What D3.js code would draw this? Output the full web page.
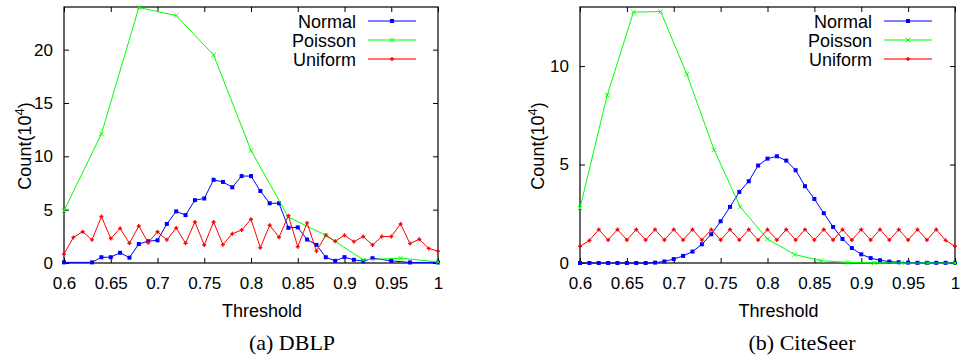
<!DOCTYPE html>
<html>
<head>
<meta charset="utf-8">
<script src="https://cdn.jsdelivr.net/npm/d3@7"></script>
<style>
  body { margin: 0; background: #fff; }
  svg { display: block; }
  text { font-family: "Liberation Sans", Arial, sans-serif; fill: #000; }
  .caption { font-family: "Liberation Serif", "Times New Roman", serif; }
</style>
</head>
<body>
<svg id="chart" width="960" height="360"></svg>
<script>
// thresholds shared by the dense series
const thresholds = [0.60,0.61,0.62,0.63,0.64,0.65,0.66,0.67,0.68,0.69,
                    0.70,0.71,0.72,0.73,0.74,0.75,0.76,0.77,0.78,0.79,
                    0.80,0.81,0.82,0.83,0.84,0.85,0.86,0.87,0.88,0.89,
                    0.90,0.91,0.92,0.93,0.94,0.95,0.96,0.97,0.98,0.99,1.00];
const xTicks = [0.6,0.65,0.7,0.75,0.8,0.85,0.9,0.95,1];
const seriesNames = ["Normal", "Poisson", "Uniform"];

// (a) DBLP
const dblpNormalX = [0.60,0.63,0.64,0.65,0.66,0.67,0.68,0.69,0.70,0.71,0.72,0.73,0.74,0.75,0.76,0.77,0.78,0.79,
                     0.80,0.81,0.82,0.83,0.84,0.85,0.86,0.87,0.88,0.89,0.90,0.91,0.92,0.93,0.95,0.97,1.00];
const dblpNormalY = [0.06,0.06,0.54,0.54,0.96,0.5,1.78,2.04,2.13,3.66,4.84,4.49,5.89,6.05,7.8,7.6,7.1,8.15,
                     8.15,6.75,5.6,5.6,3.3,3.34,2.2,1.7,0.54,0.2,0.55,0.3,0.17,0.45,0.2,0.05,0.05];
const dblpPoissonX = [0.60,0.64,0.68,0.72,0.76,0.80,0.84,0.88,0.92,0.96,1.00];
const dblpPoissonY = [4.9,12.1,23.95,23.2,19.5,10.55,4.3,2.6,0.3,0.45,0.1];
const dblpUniformY = [0.83,2.4,2.93,2.17,4.36,2.29,3.25,1.85,3.47,1.91,
                      2.93,2.17,3.28,1.85,3.85,1.69,3.85,1.72,2.74,3.09,
                      4.1,1.43,3.54,2.42,4.43,1.53,3.76,1.11,2.61,2.04,
                      2.61,2.0,2.48,1.69,2.48,2.48,3.66,1.82,2.23,1.37,1.11];
const dblpYTicks = [0,5,10,15,20];

// (b) CiteSeer
const csNormalY = [0,0,0,0,0,0,0,0,0.02,0.08,
                   0.2,0.36,0.58,0.95,1.46,2.12,2.85,3.61,4.15,4.95,
                   5.3,5.42,5.2,4.71,3.9,3.25,2.53,1.83,1.22,0.76,
                   0.44,0.25,0.14,0.07,0.04,0.02,0.01,0.01,0.01,0.01,0.01];
const csPoissonX = [0.6,0.629,0.657,0.686,0.714,0.743,0.771,0.8,0.829,0.857,0.886,0.914,0.943,0.971,1.0];
const csPoissonY = [2.79,8.52,12.74,12.77,9.58,5.75,2.84,1.22,0.43,0.12,0.03,0.01,0,0,0];
const csUniformY = [0.85,1.14,1.7,1.17,1.7,1.17,1.7,1.17,1.7,1.17,
                    1.7,1.17,1.7,1.17,1.7,1.17,1.7,1.17,1.7,1.17,
                    1.7,1.17,1.7,1.17,1.7,1.17,1.7,1.17,1.7,1.17,
                    1.7,1.17,1.7,1.17,1.7,1.17,1.7,1.17,1.7,1.15,0.85];
const csYTicks = [0,5,10];

const colors = { Normal: "#0000ff", Poisson: "#00ff00", Uniform: "#ff0000" };

const svg = d3.select("#chart");

function zip(xs, ys) { return xs.map((x, i) => [x, ys[i]]); }

function drawMarker(g, name, cx, cy) {
  const c = colors[name];
  if (name === "Normal") {
    g.append("rect").attr("x", cx - 2).attr("y", cy - 2).attr("width", 4).attr("height", 4).attr("fill", c);
  } else if (name === "Poisson") {
    g.append("path").attr("d", `M${cx-2.2},${cy-2.2}L${cx+2.2},${cy+2.2}M${cx-2.2},${cy+2.2}L${cx+2.2},${cy-2.2}`)
      .attr("stroke", c).attr("stroke-width", 1);
  } else {
    g.append("path").attr("d", `M${cx-2},${cy}L${cx+2},${cy}M${cx},${cy-2}L${cx},${cy+2}`)
      .attr("stroke", c).attr("stroke-width", 1.4);
  }
}

function drawPanel(p) {
  const x = d3.scaleLinear().domain([0.6, 1]).range([p.left, p.right]);
  const y = d3.scaleLinear().domain([0, p.yMax]).range([p.bottom, p.top]);
  const g = svg.append("g");

  // frame
  g.append("rect").attr("x", p.left).attr("y", p.top)
    .attr("width", p.right - p.left).attr("height", p.bottom - p.top)
    .attr("fill", "none").attr("stroke", "#000").attr("stroke-width", 1.2);

  // axes with inward ticks, mirrored on top/right
  const bottomAxis = g.append("g").attr("transform", `translate(0,${p.bottom})`)
    .call(d3.axisBottom(x).tickValues(xTicks).tickSize(-5).tickPadding(14).tickFormat(d3.format("")));
  const leftAxis = g.append("g").attr("transform", `translate(${p.left},0)`)
    .call(d3.axisLeft(y).tickValues(p.yTicks).tickSize(-5).tickPadding(11));
  g.append("g").attr("transform", `translate(0,${p.top})`)
    .call(d3.axisTop(x).tickValues(xTicks).tickSize(-5).tickFormat(""));
  g.append("g").attr("transform", `translate(${p.right},0)`)
    .call(d3.axisRight(y).tickValues(p.yTicks).tickSize(-5).tickFormat(""));
  g.selectAll(".domain").remove();
  g.selectAll(".tick line").attr("stroke", "#000").attr("stroke-width", 1);
  g.selectAll(".tick text").attr("font-size", 17)
    .attr("font-family", "Liberation Sans, Arial, sans-serif");

  // series
  const line = d3.line().x(d => x(d[0])).y(d => y(d[1]));
  p.series.forEach(s => {
    g.append("path").datum(s.points).attr("d", line)
      .attr("fill", "none").attr("stroke", colors[s.name]).attr("stroke-width", 1);
    const mg = g.append("g");
    s.points.forEach(d => drawMarker(mg, s.name, x(d[0]), y(d[1])));
  });

  // legend
  seriesNames.forEach((name, i) => {
    const ly = 21 + i * 19;
    g.append("text").attr("x", p.legendText).attr("y", ly + 6.5)
      .attr("text-anchor", "end").attr("font-size", 18).text(name);
    g.append("line").attr("x1", p.legendText + 12).attr("x2", p.legendText + 60)
      .attr("y1", ly).attr("y2", ly).attr("stroke", colors[name]).attr("stroke-width", name === "Uniform" ? 1.5 : 1)
      .attr("stroke-opacity", name === "Uniform" ? 0.75 : 1);
    drawMarker(g, name, p.legendText + 36, ly);
  });

  // axis titles
  const cx = (p.left + p.right) / 2 + 11;
  g.append("text").attr("x", cx).attr("y", 316.5)
    .attr("text-anchor", "middle").attr("font-size", 18).text("Threshold");
  const yl = g.append("text")
    .attr("transform", `translate(${p.yLabelX},146) rotate(-90)`)
    .attr("text-anchor", "middle").attr("font-size", 18);
  yl.append("tspan").text("Count(10");
  yl.append("tspan").attr("dy", -7).attr("font-size", 13).text("4");
  yl.append("tspan").attr("dy", 7).text(")");

  g.append("text").attr("class", "caption").attr("x", p.captionX).attr("y", 350)
    .attr("text-anchor", "middle").attr("font-size", 22).text(p.caption);
}

drawPanel({
  left: 64, right: 438, top: 7, bottom: 263, yMax: 24, yTicks: dblpYTicks,
  legendText: 356, yLabelX: 31, captionX: 292, caption: "(a) DBLP",
  series: [
    { name: "Normal", points: zip(dblpNormalX, dblpNormalY) },
    { name: "Poisson", points: zip(dblpPoissonX, dblpPoissonY) },
    { name: "Uniform", points: zip(thresholds, dblpUniformY) }
  ]
});

drawPanel({
  left: 580, right: 955, top: 7, bottom: 263, yMax: 13, yTicks: csYTicks,
  legendText: 872, yLabelX: 544, captionX: 802, caption: "(b) CiteSeer",
  series: [
    { name: "Normal", points: zip(thresholds, csNormalY) },
    { name: "Poisson", points: zip(csPoissonX, csPoissonY) },
    { name: "Uniform", points: zip(thresholds, csUniformY) }
  ]
});
</script>
</body>
</html>
